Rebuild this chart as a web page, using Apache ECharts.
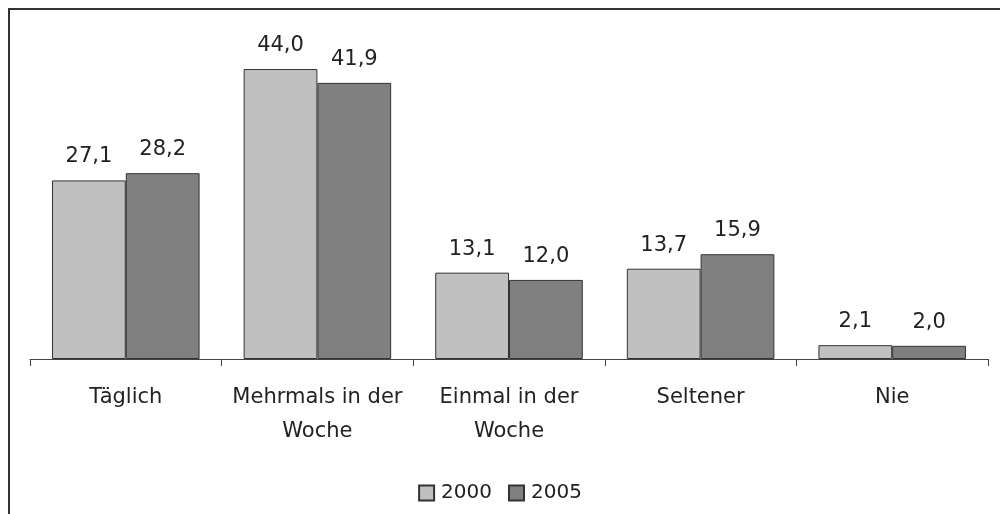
<!DOCTYPE html>
<html><head><meta charset="utf-8">
<script src="https://cdn.jsdelivr.net/npm/echarts@6/dist/echarts.min.js"></script>
<style>html,body{margin:0;padding:0;background:#fff}#c{width:1000px;height:514px}</style>
</head><body><div id="c"></div>
<script>
const categories = ['Täglich', 'Mehrmals in der\nWoche', 'Einmal in der\nWoche', 'Seltener', 'Nie'];
const seriesNames = ['2000', '2005'];
const values2000 = [27.1, 44.0, 13.1, 13.7, 2.1];
const values2005 = [28.2, 41.9, 12.0, 15.9, 2.0];

const font = 'DejaVu Sans, sans-serif';
const fmt = p => p.value.toFixed(1).replace('.', ',');
const chart = echarts.init(document.getElementById('c'), null, {renderer: 'canvas'});
chart.setOption({
  animation: false,
  graphic: [{type: 'rect', shape: {x: 9, y: 9, width: 1000, height: 520}, style: {fill: 'none', stroke: '#333', lineWidth: 2}, silent: true}],
  grid: {left: 30, right: 12, top: 29.5, bottom: 155, containLabel: false},
  legend: {
    top: 478, left: 'center', itemWidth: 15, itemHeight: 15, itemGap: 16,
    textStyle: {fontFamily: font, fontSize: 20, color: '#222', padding: [0, 0, 0, 2]},
    data: seriesNames.map(n => ({name: n, icon: 'rect'}))
  },
  xAxis: {
    type: 'category', data: categories,
    axisLine: {lineStyle: {color: '#444', width: 1}},
    axisTick: {show: true, length: 7, lineStyle: {color: '#444'}},
    axisLabel: {fontFamily: font, fontSize: 21, color: '#222', margin: 22, lineHeight: 34, interval: 0}
  },
  yAxis: {type: 'value', min: 0, max: 50, show: false, splitLine: {show: false}},
  series: [
    {name: seriesNames[0], type: 'bar', data: values2000, barGap: '0%', barCategoryGap: '23%',
     itemStyle: {color: '#c0c0c0', borderColor: '#333', borderWidth: 1},
     label: {show: true, position: 'top', distance: 13, formatter: fmt, fontFamily: font, fontSize: 21, color: '#222'}},
    {name: seriesNames[1], type: 'bar', data: values2005,
     itemStyle: {color: '#808080', borderColor: '#333', borderWidth: 1},
     label: {show: true, position: 'top', distance: 13, formatter: fmt, fontFamily: font, fontSize: 21, color: '#222'}}
  ]
});
</script></body></html>
